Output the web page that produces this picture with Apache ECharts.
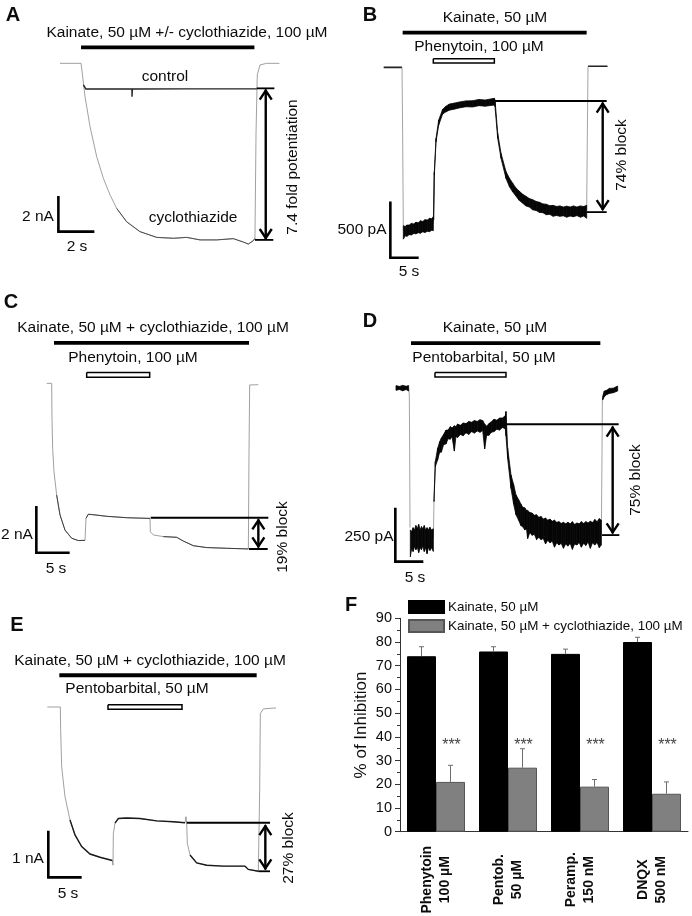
<!DOCTYPE html>
<html><head><meta charset="utf-8">
<style>html,body{margin:0;padding:0;background:#fff}#c{width:692px;height:916px}</style>
<script src="https://cdn.jsdelivr.net/npm/echarts@6/dist/echarts.min.js"></script>
</head><body><div id="c"></div>
<script>
// ---------- Panel A (time s, current nA)
const aCyclo=[[0,0],[1.17,0],[1.26,-.74],[1.39,-1.85],[1.67,-3.52],[2.04,-5.19],[2.41,-6.39],[2.78,-7.31],[3.15,-8.06],[3.7,-8.8],[4.44,-9.35],[5.37,-9.67],[6.3,-9.72],[7.04,-9.67],[7.78,-9.81],[8.7,-9.81],[9.63,-9.74],[10.19,-9.93],[10.46,-10.04],[10.74,-9.85],[10.83,-9.72],[10.89,-3.89],[10.96,-.65],[11.11,-.09],[11.48,0],[12.19,0]];
const aControl=[[1.3,-1.2],[1.44,-1.43],[4,-1.43],[4,-1.85],[4.02,-1.43],[7,-1.42],[10.93,-1.42]];
const aStim=[1.17,10.8,.89], aTop=[10.93,11.91,-1.39], aBot=[10.83,11.85,-9.81], aArrow=[11.43,-1.46,-9.76];
const aScale=[-.09,1.91,-7.37,-9.35];
// ---------- Panel B (time s, current pA)
const bBase=[[0,0],[3.24,0]], bEnd=[[36.06,9],[36.3,9],[39.5,9]];
const bJumps=[[[3.24,0],[3.35,-586],[3.47,-1450]],[[8.76,-1390],[8.88,-940]],[[35.82,-1270],[35.94,-600],[36.06,9]]];
const bBand=[[3.47,-1525,-1405],[3.8,-1495,-1412],[4.1,-1500,-1400],[4.5,-1485,-1400],[4.9,-1488,-1385],[5.3,-1475,-1390],[5.7,-1478,-1375],[6.1,-1468,-1380],[6.5,-1472,-1362],[6.9,-1460,-1368],[7.3,-1465,-1352],[7.7,-1455,-1355],[8.1,-1458,-1340],[8.5,-1445,-1345],[8.76,-1450,-1325]];
const bBand2=[[8.82,-1356,-1296],[8.94,-956,-926],[9.24,-660,-630],[9.71,-512,-468],[10.41,-414,-373],[11,-395,-345],[11.59,-380,-326],[12.4,-372,-318],[13.35,-360,-308],[14.5,-350,-298],[15.71,-352,-296],[16.8,-340,-285],[17.9,-345,-290],[19.53,-335,-275],[19.65,-349,-290],[20.12,-630,-586],[20.71,-808,-764],[21.59,-986,-926],[22.2,-1060,-985],[22.76,-1105,-1028],[23.3,-1140,-1068],[23.9,-1180,-1098],[24.5,-1205,-1125],[25.1,-1230,-1145],[25.7,-1240,-1165],[26.3,-1265,-1175],[26.9,-1270,-1190],[27.5,-1288,-1198],[28.1,-1290,-1212],[28.7,-1308,-1215],[29.3,-1305,-1228],[29.9,-1322,-1225],[30.5,-1315,-1235],[31.1,-1322,-1230],[31.7,-1318,-1240],[32.3,-1330,-1232],[32.9,-1320,-1240],[33.5,-1326,-1230],[34.1,-1316,-1240],[34.7,-1330,-1230],[35.3,-1320,-1236],[35.82,-1340,-1224]];
const bStim=[3.35,35.82,308], bOpen=[8.76,19.53,77,38], bTop=[19.65,39.35,-299], bBot=[35.82,39.35,-1285], bArrow=[38.65,-314,-1267];
const bScale=[1.18,6.18,-1190,-1690];
// ---------- Panel C (time s, current nA)
const cTrace=[[0,0],[.75,0],[.8,-1.5],[.9,-2.79],[1.1,-3.79],[1.5,-4.79],[2,-5.64],[2.75,-6.29],[3.75,-6.64],[4.75,-6.74],[5.75,-6.73],[5.9,-5.79],[6.25,-5.61],[7.25,-5.64],[9,-5.7],[12,-5.76],[15.5,-5.79],[15.55,-6.36],[16,-6.5],[17.5,-6.57],[19.5,-6.6],[20.5,-6.76],[22,-6.96],[24,-7.04],[27,-7.07],[30.25,-7.1],[30.35,-2.93],[30.45,-.07],[31.75,-.06]];
const cStim=[1.1,30.35,1.73], cOpen=[6,15.45,.46,.26], cTop=[15.6,33.25,-5.76], cBot=[30.35,33.15,-7.1], cArrow=[31.75,-5.83,-7.03];
const cScale=[-1.55,3.45,-5.26,-7.26];
// ---------- Panel D (time s, current pA)
const dBand0=[[0,-14,8],[.6,-10,4],[1.2,-16,9],[1.8,-10,5],[2.26,-17,8]];
const dJumps=[[[2.26,-5],[2.38,-35],[2.44,-298],[2.5,-650]],[[6.67,-700],[6.79,-520]],[[36.67,-680],[36.79,-298],[36.85,-59],[37.2,-28]]];
const dBand1=[[2.56,-785,-660],[2.8,-745,-668],[3.05,-760,-650],[3.3,-738,-660],[3.55,-752,-640],[3.8,-740,-655],[4.05,-765,-635],[4.3,-742,-660],[4.55,-752,-645],[4.8,-735,-655],[5.05,-760,-640],[5.3,-742,-662],[5.55,-770,-650],[5.8,-740,-660],[6.05,-755,-648],[6.3,-742,-660],[6.67,-760,-655]];
const dBand2=[[6.79,-529,-514],[7.02,-367,-344],[7.44,-335,-282],[7.8,-300,-252],[8.1,-300,-235],[8.5,-265,-218],[8.93,-262,-198],[9.3,-238,-198],[9.7,-240,-182],[10,-228,-188],[10.42,-295,-178],[10.7,-228,-182],[11,-232,-170],[11.5,-218,-176],[12,-224,-165],[12.5,-210,-168],[13,-218,-158],[13.5,-205,-162],[14,-212,-154],[14.5,-202,-158],[15,-208,-150],[15.48,-200,-154],[15.83,-285,-170],[16.19,-222,-180],[16.6,-222,-168],[17,-208,-160],[17.5,-205,-148],[18,-194,-152],[18.5,-198,-142],[19,-186,-142],[19.52,-192,-132],[19.64,-225,-112],[19.94,-329,-282],[20.54,-468,-406],[21,-540,-450],[21.43,-590,-498],[21.9,-615,-520],[22.3,-640,-540],[22.62,-645,-555],[23,-660,-558],[23.3,-655,-570],[23.51,-700,-570],[23.9,-672,-580],[24.3,-685,-582],[24.7,-680,-592],[25.1,-705,-590],[25.5,-695,-602],[25.9,-705,-598],[26.3,-700,-610],[26.7,-725,-605],[27.1,-708,-615],[27.5,-720,-610],[27.9,-712,-620],[28.3,-740,-615],[28.7,-720,-625],[29.1,-730,-622],[29.5,-722,-630],[29.9,-745,-625],[30.3,-725,-632],[30.7,-735,-625],[31.1,-722,-632],[31.5,-750,-622],[31.9,-725,-635],[32.3,-730,-628],[32.7,-718,-632],[33.1,-740,-622],[33.5,-722,-630],[33.9,-732,-622],[34.3,-716,-628],[34.7,-745,-620],[35.1,-720,-626],[35.5,-730,-612],[35.9,-718,-622],[36.3,-742,-608],[36.67,-730,-615]];
const dBand3=[[36.9,-59,-43],[37.2,-43,-17],[37.6,-34,-14],[38.1,-28,-5],[38.8,-25,-4],[39.58,-17,6]];
const dStim=[2.68,36.49,205], dOpen=[6.96,19.64,69,48], dTop=[19.64,39.76,-171], dBot=[36.79,39.88,-684], dArrow=[38.69,-182,-676];
const dScale=[-.12,4.88,-557,-807];
// ---------- Panel E (time s, current nA)
const eTrace=[[0,0],[1.95,0],[2,-.49],[2.15,-1.28],[2.65,-1.92],[3.4,-2.42],[4.15,-2.74],[5.15,-2.99],[6.4,-3.15],[7.9,-3.22],[9.75,-3.29],[9.85,-3.39],[9.9,-2.71],[10.15,-2.49],[10.65,-2.39],[11.9,-2.38],[13.9,-2.39],[16.4,-2.44],[18.9,-2.46],[20.65,-2.48],[20.8,-2.35],[20.9,-2.49],[21,-2.92],[21.4,-3.17],[22.4,-3.34],[23.9,-3.39],[26.4,-3.41],[29.65,-3.41],[30.15,-3.48],[31.65,-3.52],[31.85,-1.78],[31.95,-.14],[32.4,-.04],[34.3,-.02]];
const eStim=[1.8,31.4,.68], eOpen=[9.1,20.2,.05,-.05], eTop=[20.9,33.4,-2.48], eBot=[31.65,33.4,-3.52], eArrow=[32.7,-2.53,-3.48];
const eScale=[.15,5.15,-2.65,-3.65];
// ---------- Panel F (% of inhibition)
const fCategories=['Phenytoin\n100 µM','Pentob.\n50 µM','Peramp.\n150 nM','DNQX\n500 nM'];
const fKainate=[74,76,75,80], fKainateErr=[4,2,2,2];
const fCyclo=[21,27,19,16], fCycloErr=[7,8,3,5];
const fStars=[36.5,36.5,36.5,36.5];
const fTicks=[0,10,20,30,40,50,60,70,80,90];

const FONT='"Liberation Sans",Arial,sans-serif', INK='#0c0c0c';
const W=692,H=916;
const panels=[ // grid box and the scale
 {box:[0,0,342,282],o:[60,63.33],s:[18,18]},
 {box:[342,0,350,282],o:[383.67,67.33],s:[5.667,.11267]},
 {box:[0,282,342,305],o:[46.67,383.33],s:[6.667,23.33]},
 {box:[342,282,350,305],o:[396,387.33],s:[5.6,.216]},
 {box:[0,590,342,326],o:[47.33,707],s:[6.667,46.67]}
];
const grid=[],xAxis=[],yAxis=[],series=[];
panels.forEach(p=>{
 const [l,t,w,h]=p.box;
 grid.push({left:l,top:t,width:w,height:h,containLabel:false,outerBoundsMode:'none'});
 xAxis.push({type:'value',show:false,gridIndex:grid.length-1,min:(l-p.o[0])/p.s[0],max:(l+w-p.o[0])/p.s[0]});
 yAxis.push({type:'value',show:false,gridIndex:grid.length-1,max:(p.o[1]-t)/p.s[1],min:(p.o[1]-t-h)/p.s[1]});
});
function line(g,data,width,color){series.push({type:'line',xAxisIndex:g,yAxisIndex:g,data,symbol:'none',silent:true,z:3,lineStyle:{width,color,cap:'butt',join:'miter'},clip:false});}
function dark(g,trace,ranges,width,color){ranges.forEach(r=>line(g,trace.filter(d=>d[0]>=r[0]&&d[0]<=r[1]),width,color));}
function band(g,data){series.push({type:'custom',xAxisIndex:g,yAxisIndex:g,silent:true,z:4,clip:false,data,encode:{x:0,y:[1,2]},
 renderItem(params,api){
  const i=params.dataIndex; if(i>=data.length-1) return null;
  const a=data[i],b=data[i+1];
  const pts=[api.coord([a[0],a[2]]),api.coord([b[0],b[2]]),api.coord([b[0],b[1]]),api.coord([a[0],a[1]])];
  return {type:'polygon',shape:{points:pts},style:{fill:'#060606',stroke:'#060606',lineWidth:.8}};
 }});}
function stim(g,s){line(g,[[s[0],s[2]],[s[1],s[2]]],3.8,'#000');}
function open(g,s){line(g,[[s[0],s[2]],[s[1],s[2]],[s[1],s[3]],[s[0],s[3]],[s[0],s[2]]],1.5,'#000');}
function hline(g,s,w){line(g,[[s[0],s[2]],[s[1],s[2]]],w||1.8,'#000');}
function scale(g,s){line(g,[[s[0],s[2]],[s[0],s[3]],[s[1],s[3]]],2.6,'#000');}
function arrow(g,a){series.push({type:'custom',xAxisIndex:g,yAxisIndex:g,silent:true,z:5,clip:false,data:[a],encode:{x:0,y:[1,2]},
 renderItem(params,api){
  const t=api.coord([api.value(0),api.value(1)]),b=api.coord([api.value(0),api.value(2)]);
  const st={stroke:'#000',fill:null,lineWidth:2.4};
  return {type:'group',children:[
   {type:'line',shape:{x1:t[0],y1:t[1],x2:b[0],y2:b[1]},style:st},
   {type:'polyline',shape:{points:[[t[0]-6,t[1]+10],[t[0],t[1]+1],[t[0]+6,t[1]+10]]},style:st},
   {type:'polyline',shape:{points:[[b[0]-6,b[1]-10],[b[0],b[1]-1],[b[0]+6,b[1]-10]]},style:st}
  ]};
 }});}
const GRAY='#888888';
// A
line(0,aCyclo,.8,GRAY); dark(0,aCyclo,[[3.15,10.83]],.9,'#444'); line(0,aControl,1.4,'#222');
stim(0,aStim); hline(0,aTop); hline(0,aBot); arrow(0,aArrow); scale(0,aScale);
// B
line(1,bBase,1.6,'#222'); line(1,bEnd,1.6,'#222'); bJumps.forEach(j=>line(1,j,.9,'#999'));
band(1,bBand); band(1,bBand2);
stim(1,bStim); open(1,bOpen); hline(1,bTop); hline(1,bBot); arrow(1,bArrow); scale(1,bScale);
// C
line(2,cTrace,.8,GRAY); dark(2,cTrace,[[1.5,5.75],[5.9,15.5],[17.5,30.25]],.9,'#333');
stim(2,cStim); open(2,cOpen); hline(2,cTop,2); hline(2,cBot,2); arrow(2,cArrow); scale(2,cScale);
// D
band(3,dBand0); dJumps.forEach(j=>line(3,j,.9,'#999')); band(3,dBand1); band(3,dBand2); band(3,dBand3);
stim(3,dStim); open(3,dOpen); hline(3,dTop); hline(3,dBot); arrow(3,dArrow); scale(3,dScale);
// E
line(4,eTrace,.8,GRAY); dark(4,eTrace,[[3.4,9.75],[10.15,20.65],[21.4,31.65]],1.4,'#1a1a1a');
stim(4,eStim); open(4,eOpen); hline(4,eTop); hline(4,eBot); arrow(4,eArrow); scale(4,eScale);

// F
const fg=5;
grid.push({left:400,top:618.3,width:288,height:213.4,containLabel:false,outerBoundsMode:'none'});
const axisColor='#333';
xAxis.push({type:'category',gridIndex:fg,data:fCategories,
 axisLine:{lineStyle:{color:axisColor,width:1}},axisTick:{alignWithLabel:true,length:5,lineStyle:{color:axisColor}},
 axisLabel:{interval:0,rotate:90,align:'center',verticalAlign:'middle',margin:48,fontFamily:FONT,fontWeight:'bold',fontSize:14,lineHeight:18,color:INK,hideOverlap:false}});
xAxis.push({type:'category',gridIndex:fg,position:'bottom',data:fCategories,axisLine:{show:false},axisTick:{length:2,lineStyle:{color:axisColor}},axisLabel:{show:false}});
yAxis.push({type:'value',gridIndex:fg,min:0,max:90,interval:10,
 axisLine:{show:true,lineStyle:{color:axisColor,width:1}},axisTick:{show:true,length:5,lineStyle:{color:axisColor}},
 minorTick:{show:true,splitNumber:2,length:3,lineStyle:{color:axisColor}},splitLine:{show:false},
 axisLabel:{margin:8,fontFamily:FONT,fontSize:14.5,color:INK,customValues:fTicks},
 name:'% of Inhibition',nameLocation:'middle',nameRotate:90,nameGap:30,nameTextStyle:{fontFamily:FONT,fontSize:17,color:INK}});
const fx=6,fy=5;
series.push({type:'bar',name:'Kainate, 50 µM',xAxisIndex:fx,yAxisIndex:fy,data:fKainate,barWidth:29,barGap:'0%',itemStyle:{color:'#000',borderColor:'#000',borderWidth:1},silent:true,z:2});
series.push({type:'bar',name:'Kainate, 50 µM + cyclothiazide, 100 µM',xAxisIndex:fx,yAxisIndex:fy,data:fCyclo,barWidth:29,barGap:'0%',itemStyle:{color:'#808080',borderColor:'#555',borderWidth:1},silent:true,z:2});
function errors(vals,errs,off){series.push({type:'custom',xAxisIndex:fx,yAxisIndex:fy,silent:true,z:3,data:vals.map((v,i)=>[i,v,errs[i]]),encode:{x:0,y:1},
 renderItem(params,api){
  const a=api.coord([api.value(0),api.value(1)]),b=api.coord([api.value(0),api.value(1)+api.value(2)]);
  const x=a[0]+off,st={stroke:'#6e6e6e',lineWidth:1};
  return {type:'group',children:[{type:'line',shape:{x1:x,y1:a[1],x2:x,y2:b[1]},style:st},{type:'line',shape:{x1:x-2.5,y1:b[1],x2:x+2.5,y2:b[1]},style:st}]};
 }});}
errors(fKainate,fKainateErr,-14.5); errors(fCyclo,fCycloErr,14.5);
series.push({type:'custom',xAxisIndex:fx,yAxisIndex:fy,silent:true,z:3,data:fStars.map((v,i)=>[i,v]),encode:{x:0,y:1},
 renderItem(params,api){const a=api.coord([api.value(0),api.value(1)]);
  return {type:'text',x:a[0]+15.5,y:a[1],style:{text:'***',font:'16px '+FONT,fill:'#444',align:'center',verticalAlign:'middle'}};}});

// Text labels
const T=(text,x,y,size,opt={})=>({type:'text',x,y,rotation:opt.rot?Math.PI/2:0,z:10,silent:true,style:{text,fill:INK,font:(opt.bold?'bold ':'')+size+'px '+FONT,align:'center',verticalAlign:'middle'}});
const R={rot:true},B={bold:true},S=15.5;
const labels=[
 T('A',13,15,20,B),T('B',370,15,20,B),T('C',11,302,20,B),T('D',370,321,20,B),T('E',17,625,20,B),T('F',351,605,20,B),
 T('Kainate, 50 µM +/- cyclothiazide, 100 µM',187,33,S),T('control',165,77,S),T('cyclothiazide',193,218,S),T('2 nA',38,217,S),T('2 s',77,247,S),T('7.4 fold potentiation',293,167,S,R),
 T('Kainate, 50 µM',495,18,S),T('Phenytoin, 100 µM',479,47,S),T('500 pA',362,230,S),T('5 s',409,272,S),T('74% block',622,155,S,R),
 T('Kainate, 50 µM + cyclothiazide, 100 µM',153,328,S),T('Phenytoin, 100 µM',133,358,S),T('2 nA',17,535,S),T('5 s',56,569,S),T('19% block',283,537,S,R),
 T('Kainate, 50 µM',495,328,S),T('Pentobarbital, 50 µM',484,358,S),T('250 pA',369,537,S),T('5 s',415,578,S),T('75% block',636,480,S,R),
 T('Kainate, 50 µM + cyclothiazide, 100 µM',150,661,S),T('Pentobarbital, 50 µM',137,689,S),T('1 nA',28,859,S),T('5 s',68,894,S),T('27% block',289,848,S,R)
];
const chart=echarts.init(document.getElementById('c'),null,{renderer:'canvas',width:W,height:H});
chart.setOption({animation:false,backgroundColor:'#fff',grid,xAxis,yAxis,series,graphic:{elements:labels},
 legend:{data:['Kainate, 50 µM','Kainate, 50 µM + cyclothiazide, 100 µM'],orient:'vertical',left:408,top:600,itemWidth:35,itemHeight:12,itemGap:5,selectedMode:false,padding:0,
  icon:'rect',textStyle:{fontFamily:FONT,fontSize:13.4,color:INK,padding:[0,0,0,-1]}}});
</script></body></html>
